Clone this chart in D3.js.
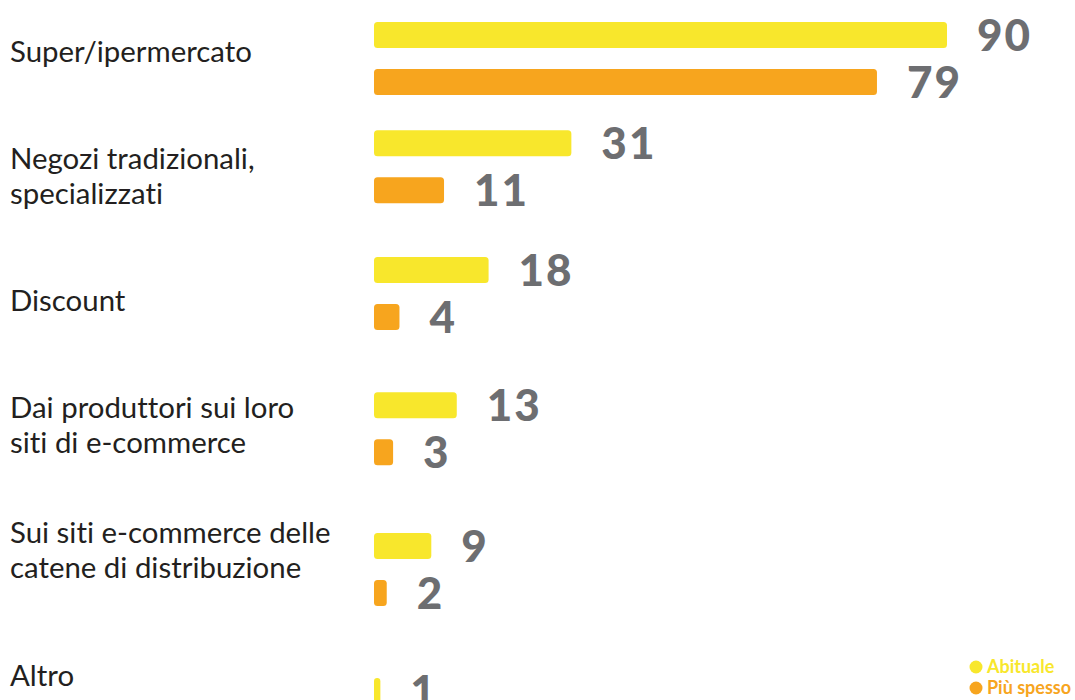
<!DOCTYPE html>
<html>
<head>
<meta charset="utf-8">
<script src="https://cdn.jsdelivr.net/npm/d3@7"></script>
<style>
  html, body { margin: 0; padding: 0; background: #ffffff; }
  svg { display: block; }
  text { font-variant-ligatures: none; font-feature-settings: "liga" 0, "dlig" 0; }
</style>
</head>
<body>
<svg id="chart" width="1075" height="700"></svg>
<script>
// Canali di acquisto: una riga per canale, ogni riga può andare a capo
const categories = [
  ["Super/ipermercato"],
  ["Negozi tradizionali,", "specializzati"],
  ["Discount"],
  ["Dai produttori sui loro", "siti di e-commerce"],
  ["Sui siti e-commerce delle", "catene di distribuzione"],
  ["Altro"]
];
const seriesNames = ["Abituale", "Più spesso"];
const abituale  = [90, 31, 18, 13, 9, 1];
const piuSpesso = [79, 11, 4, 3, 2, null];
const seriesColors = ["#F8E72C", "#F7A51E"];

const svg = d3.select("#chart");

const x = d3.scaleLinear().domain([0, 90]).range([374, 947]);
// linea di base (media) delle etichette dei canali, a passo costante
const yLabel = d3.scaleLinear().domain([0, categories.length - 1]).range([61.5, 685.5]);
// le coppie di barre si allargano leggermente verso il basso
const yRow = d3.scalePow().exponent(1.12).domain([0, categories.length - 1]).range([22, 678]);

const barH = 26;
const pairStep = 47;

const series = [abituale, piuSpesso].map((vals, s) => ({
  name: seriesNames[s],
  color: seriesColors[s],
  values: vals.map((v, i) => ({ i, v, s })).filter(d => d.v !== null)
}));

// barre
const gBars = svg.append("g");
series.forEach(ser => {
  gBars.selectAll(null)
    .data(ser.values)
    .join("rect")
    .attr("x", x(0))
    .attr("y", d => yRow(d.i) + d.s * pairStep)
    .attr("width", d => x(d.v) - x(0))
    .attr("height", barH)
    .attr("rx", d => Math.min(3.5, (x(d.v) - x(0)) / 2))
    .attr("fill", ser.color);
});

// valori
const gVals = svg.append("g")
  .attr("font-family", "Lato, 'Open Sans', sans-serif")
  .attr("font-weight", 900)
  .attr("font-size", 44)
  .attr("letter-spacing", 2)
  .attr("fill", "#6D6E71");
series.forEach(ser => {
  gVals.selectAll(null)
    .data(ser.values)
    .join("text")
    .attr("x", d => x(d.v) + 30)
    .attr("y", d => yRow(d.i) + d.s * pairStep + barH / 2)
    .attr("dy", "0.36em")
    .text(d => d.v);
});

// nomi dei canali
const lineH = 35;
const gCats = svg.append("g")
  .attr("font-family", "Lato, 'Open Sans', sans-serif")
  .attr("font-size", 29.4)
  .attr("fill", "#231F20");
gCats.selectAll("text")
  .data(categories)
  .join("text")
  .attr("x", 10)
  .each(function (lines, i) {
    d3.select(this).selectAll("tspan")
      .data(lines)
      .join("tspan")
      .attr("x", 10)
      .attr("y", (l, k) => yLabel(i) + (k - (lines.length - 1) / 2) * lineH)
      .text(l => l);
  });

// legenda
const legend = svg.append("g")
  .attr("font-family", "Lato, 'Open Sans', sans-serif")
  .attr("font-weight", 700)
  .attr("font-size", 18);
const legendItems = legend.selectAll("g")
  .data(series)
  .join("g")
  .attr("transform", (d, k) => `translate(976, ${667 + k * 21})`);
legendItems.append("circle")
  .attr("r", 6.5)
  .attr("fill", d => d.color);
legendItems.append("text")
  .attr("x", 11)
  .attr("dy", "0.35em")
  .attr("fill", d => d.color)
  .text(d => d.name);
</script>
</body>
</html>
